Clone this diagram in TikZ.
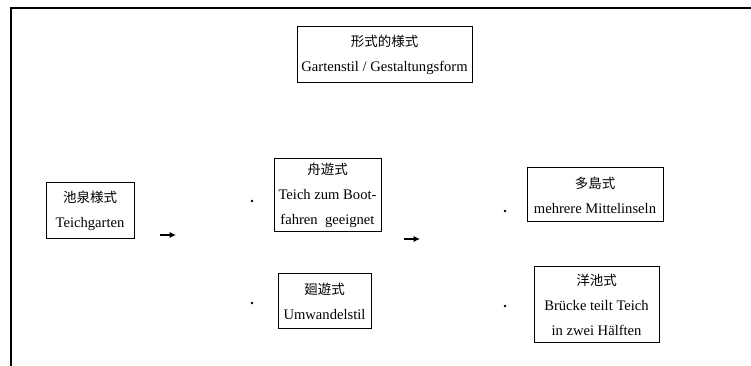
\documentclass[tikz,border=0pt]{standalone}
\usepackage{fontspec}
\setmainfont{Liberation Serif}
\newfontfamily\cjk{Noto Sans CJK JP}
\usetikzlibrary{arrows.meta}
\begin{document}
\begin{tikzpicture}[x=1pt,y=1pt,
  gbox/.style={draw, line width=1pt, inner sep=0pt, align=center,
    font=\fontsize{14.6}{25}\selectfont},
  frame/.style={line width=2pt},
  smalldot/.style={circle, fill, inner sep=0pt, minimum size=2.6pt},
  arr/.style={line width=1.2pt, -{Latex[length=6.5pt,width=6.5pt]}}]
\useasboundingbox (0,0) rectangle (751,366);
% frame
\draw[frame] (751,357.5) -- (11,357.5) -- (11,0);
% boxes (y = 366 - pixel y)
\node[gbox, minimum width=175pt, minimum height=56pt] (form) at (384.5,311)
  {{\cjk\fontsize{13.5}{25}\selectfont 形式的様式}\\Gartenstil / Gestaltungsform};
\node[gbox, minimum width=88pt, minimum height=56pt] (chisen) at (90,155)
  {{\cjk\fontsize{13.5}{25}\selectfont 池泉様式}\\Teichgarten};
\node[gbox, minimum width=107pt, minimum height=73pt] (shuyu) at (327.5,170.5)
  {{\cjk\fontsize{13.5}{25}\selectfont 舟遊式}\\Teich zum Boot-\\fahren\ \ geeignet};
\node[gbox, minimum width=93pt, minimum height=55pt] (kaiyu) at (324.5,64.5)
  {{\cjk\fontsize{13.5}{25}\selectfont 廻遊式}\\Umwandelstil};
\node[gbox, minimum width=136pt, minimum height=54pt] (tato) at (595,171)
  {{\cjk\fontsize{13.5}{25}\selectfont 多島式}\\mehrere Mittelinseln};
\node[gbox, minimum width=125pt, minimum height=76pt] (yochi) at (596.5,61)
  {{\cjk\fontsize{13.5}{25}\selectfont 洋池式}\\Brücke teilt Teich\\in zwei Hälften};
% dots
\node[smalldot] (d1) at (252,165) {};
\node[smalldot] (d2) at (252,63) {};
\node[smalldot] (d3) at (505,155) {};
\node[smalldot] (d4) at (505,60) {};
% arrows
\coordinate (a1s) at (160,131);
\coordinate (a1e) at (176,131);
\coordinate (a2s) at (404,127);
\coordinate (a2e) at (420,127);
\draw[arr] (a1s) -- (a1e);
\draw[arr] (a2s) -- (a2e);
\end{tikzpicture}
\end{document}
